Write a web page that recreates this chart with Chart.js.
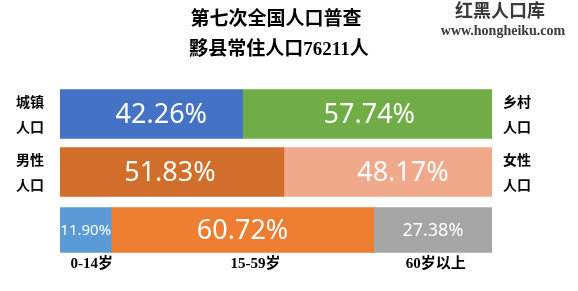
<!DOCTYPE html>
<html><head><meta charset="utf-8">
<script src="https://cdn.jsdelivr.net/npm/chart.js@4/dist/chart.umd.min.js"></script>
<style>html,body{margin:0;padding:0;background:#fff}#wrap{width:578px;height:291px;position:relative}</style>
</head><body><div id="wrap"><canvas id="c" width="578" height="291"></canvas></div>
<script>
// ---- data ----
const rows = ['城乡', '性别', '年龄'];
const urbanRural = [42.26, 57.74];
const maleFemale = [51.83, 48.17];
const ageGroups = [11.90, 60.72, 27.38];
const ageLabels = ['0-14岁', '15-59岁', '60岁以上'];
const leftLabels = [['城镇', '人口'], ['男性', '人口']];
const rightLabels = [['乡村', '人口'], ['女性', '人口']];
const titleLines = ['第七次全国人口普查', '黟县常住人口76211人'];
const watermark = ['红黑人口库', 'www.hongheiku.com'];

const SERIF = '"Liberation Serif", "Noto Sans CJK SC", serif';
const SANS = '"Noto Sans", "Open Sans", sans-serif';

const datasets = [
  { data: [urbanRural[0], maleFemale[0], null], backgroundColor: ['#4472C4', '#D26E2B', '#4472C4'], barThickness: 49, labelSize: 27 },
  { data: [urbanRural[1], maleFemale[1], null], backgroundColor: ['#70AD47', '#F0A98A', '#70AD47'], barThickness: 49, labelSize: 27 },
  { data: [null, null, ageGroups[0]], backgroundColor: '#5B9BD5', barThickness: 45, labelSize: 15, ageIndex: 0 },
  { data: [null, null, ageGroups[1]], backgroundColor: '#ED7D31', barThickness: 45, labelSize: 27, ageIndex: 1 },
  { data: [null, null, ageGroups[2]], backgroundColor: '#A5A5A5', barThickness: 45, labelSize: 18, ageIndex: 2 }
];

// styling: horizontal nudges of the value labels (px), per dataset / row
const labelNudge = [[10, -2, 0], [2, 15, 0], [0, 0, 0], [0, 0, 0], [0, 0, 0]];
const ageNudge = [6, 13, 3];

const textPlugin = {
  id: 'texts',
  afterDatasetsDraw(chart) {
    const ctx = chart.ctx;
    ctx.save();
    ctx.textAlign = 'center';
    ctx.textBaseline = 'middle';
    chart.data.datasets.forEach((ds, di) => {
      const meta = chart.getDatasetMeta(di);
      meta.data.forEach((el, i) => {
        const v = ds.data[i];
        if (v === null || v === undefined) return;
        const cx = (el.x + el.base) / 2;
        ctx.fillStyle = '#ffffff';
        ctx.font = ds.labelSize + 'px ' + SANS;
        ctx.fillText(v.toFixed(2) + '%', cx + labelNudge[di][i], el.y + 1);
        if (ds.ageIndex !== undefined) {
          ctx.fillStyle = '#000000';
          ctx.font = 'bold 15px ' + SERIF;
          ctx.fillText(ageLabels[ds.ageIndex], cx + ageNudge[ds.ageIndex], el.y + el.height / 2 + 12);
        }
      });
    });
    const ys = chart.scales.y;
    ctx.fillStyle = '#000000';
    ctx.font = 'bold 14px ' + SERIF;
    [0, 1].forEach(r => {
      const cy = ys.getPixelForValue(r);
      leftLabels[r].forEach((t, k) => ctx.fillText(t, 30, cy - 11 + k * 25));
      rightLabels[r].forEach((t, k) => ctx.fillText(t, 517, cy - 11 + k * 25));
    });
    ctx.font = 'bold 19px ' + SERIF;
    ctx.fillText(titleLines[0], 276, 20);
    ctx.fillText(titleLines[1], 279, 50);
    ctx.fillStyle = '#3a3a3a';
    ctx.font = 'bold 18px ' + SERIF;
    ctx.fillText(watermark[0], 500, 12);
    ctx.font = 'bold 14px ' + SERIF;
    ctx.fillText(watermark[1], 503, 31);
    ctx.restore();
  }
};

new Chart(document.getElementById('c'), {
  type: 'bar',
  data: { labels: rows, datasets },
  options: {
    indexAxis: 'y',
    responsive: false,
    animation: false,
    layout: { padding: { left: 60, right: 86, top: 85, bottom: 32 } },
    plugins: { legend: { display: false }, tooltip: { enabled: false }, title: { display: false } },
    scales: {
      x: { stacked: true, min: 0, max: 100, display: false },
      y: { stacked: true, display: false }
    }
  },
  plugins: [textPlugin]
});
</script></body></html>
